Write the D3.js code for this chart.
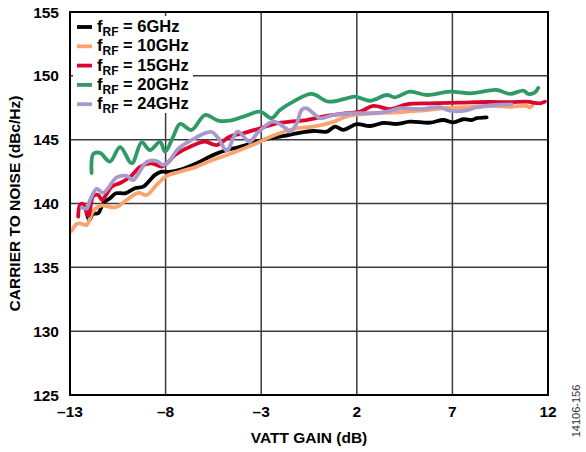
<!DOCTYPE html>
<html lang="en">
<head>
    <meta charset="UTF-8">
    <title></title>
    <style>
        body { margin: 0; background: #fff; }
        text { font-family: "Liberation Sans", Arial, sans-serif; }
        .tick-label { font-size: 15.5px; font-weight: bold; fill: #000; }
        .title { font-size: 15.5px; font-weight: bold; fill: #000; }
        .legend-text { font-size: 16.5px; font-weight: bold; fill: #000; }
        .series { fill: none; stroke-width: 3.8; stroke-linejoin: round; stroke-linecap: round; }
    </style>
</head>
<body>
<svg id="chart"></svg>
<script src="https://cdnjs.cloudflare.com/ajax/libs/d3/7.8.5/d3.min.js"></script>
<script>
    var width = 586;
    var height = 452;
    var margin = {left: 70, right: 38, top: 12, bottom: 57};

    var xTicks = [-13, -8, -3, 2, 7, 12];
    var yTicks = [125, 130, 135, 140, 145, 150, 155];

    var seriesNames = ["6GHz", "10GHz", "15GHz", "20GHz", "24GHz"];
    var seriesColors = ["#000000", "#f9a36e", "#d9072f", "#2f9a66", "#a898cb"];

    // 6GHz
    var gain6 = [-12.13, -11.99, -11.80, -11.52, -11.26, -10.91, -10.59, -10.12, -9.60, -9.17, -8.55, -8.20, -7.77, -7.25, -6.37, -5.51, -4.80, -4.11, -3.24, -2.54, -1.84, -1.14, -0.28, 0.43, 0.86, 1.29, 1.99, 2.69, 3.39, 4.09, 4.78, 5.83, 6.52, 7.05, 7.57, 8.01, 8.27, 8.79];
    var cn6 = [139.26, 138.71, 139.18, 139.24, 140.02, 140.41, 140.80, 140.80, 141.19, 141.32, 142.24, 142.49, 142.47, 142.63, 143.15, 143.80, 144.19, 144.43, 144.84, 145.11, 145.29, 145.50, 145.68, 145.63, 146.02, 145.76, 146.21, 146.07, 146.31, 146.23, 146.41, 146.33, 146.54, 146.36, 146.60, 146.54, 146.68, 146.75];
    // 10GHz
    var gain10 = [-12.91, -12.65, -12.48, -12.13, -11.95, -11.78, -11.34, -10.91, -10.56, -10.03, -9.43, -8.99, -8.47, -7.94, -7.25, -6.37, -5.68, -4.80, -4.11, -3.24, -2.54, -1.84, -1.14, -0.28, 0.77, 1.47, 2.52, 4.09, 5.31, 6.70, 8.27, 9.14, 10.01, 10.89, 11.06, 11.23];
    var cn10 = [137.85, 138.40, 138.45, 138.32, 138.85, 139.42, 139.85, 139.73, 139.73, 140.28, 140.83, 140.67, 141.45, 142.16, 142.49, 142.89, 143.33, 143.80, 144.19, 144.72, 145.21, 145.60, 145.89, 146.02, 146.39, 146.82, 147.05, 147.13, 147.27, 147.48, 147.58, 147.64, 147.58, 147.64, 147.52, 147.77];
    // 15GHz
    var gain15 = [-12.57, -12.48, -12.32, -12.04, -11.78, -11.52, -11.33, -10.82, -10.38, -9.86, -9.34, -8.73, -8.20, -7.86, -7.51, -6.72, -5.94, -5.33, -4.63, -3.94, -3.06, -2.19, -1.49, -0.62, 0.43, 1.47, 2.17, 2.86, 3.74, 4.61, 5.83, 7.40, 8.97, 10.01, 10.89, 11.58, 11.84];
    var cn15 = [138.97, 139.89, 139.97, 139.03, 140.59, 140.67, 140.28, 141.32, 141.61, 142.08, 142.86, 143.15, 142.89, 143.25, 143.80, 144.45, 144.84, 144.58, 145.25, 145.50, 145.89, 146.28, 146.41, 146.54, 146.86, 147.07, 147.19, 147.64, 147.40, 147.77, 147.85, 147.90, 147.95, 147.93, 147.98, 147.85, 147.98];
    // 20GHz
    var gain20 = [-11.87, -11.78, -11.43, -10.91, -10.38, -9.77, -9.25, -8.82, -8.29, -8.03, -7.60, -7.25, -6.64, -5.94, -5.26, -4.63, -3.94, -3.06, -2.45, -2.02, -1.32, -0.36, 0.51, 1.47, 1.91, 2.69, 3.56, 4.00, 4.78, 5.66, 6.87, 7.92, 9.32, 10.01, 10.71, 10.97, 11.32, 11.49];
    var cn20 = [142.39, 143.88, 143.96, 143.28, 144.41, 143.15, 144.78, 144.19, 144.82, 144.06, 145.24, 146.23, 145.76, 146.93, 146.50, 146.49, 146.80, 147.19, 146.68, 147.33, 147.98, 148.58, 147.98, 148.24, 148.37, 148.05, 148.50, 148.32, 148.76, 148.50, 148.76, 148.63, 148.89, 148.58, 148.84, 148.58, 148.70, 149.05];
    // 24GHz
    var gain24 = [-12.39, -12.13, -11.95, -11.60, -11.26, -10.56, -10.03, -9.70, -8.99, -8.47, -8.14, -7.86, -7.34, -6.72, -6.03, -5.59, -5.24, -4.80, -4.24, -3.76, -3.59, -3.17, -2.37, -1.67, -1.49, -1.14, -0.88, -0.62, -0.28, 0.08, 0.77, 1.99, 2.86, 3.56, 4.26, 5.31, 6.35, 6.87, 7.75, 8.27, 9.32, 10.10];
    var cn24 = [139.69, 139.61, 140.28, 141.14, 140.83, 142.04, 142.16, 141.84, 143.25, 143.33, 143.02, 143.25, 144.27, 144.90, 145.45, 145.60, 145.11, 144.15, 145.63, 144.98, 144.84, 145.56, 146.41, 145.84, 145.63, 146.28, 147.33, 147.46, 147.07, 146.68, 146.93, 147.07, 147.07, 147.19, 147.46, 147.40, 147.54, 147.27, 147.29, 147.54, 147.72, 147.77];

    var gains = [gain6, gain10, gain15, gain20, gain24];
    var cns = [cn6, cn10, cn15, cn20, cn24];

    var svg = d3.select("#chart")
        .attr("width", width)
        .attr("height", height);

    var x = d3.scaleLinear()
        .domain([-13, 12])
        .range([margin.left, width - margin.right]);
    var y = d3.scaleLinear()
        .domain([125, 155])
        .range([height - margin.bottom, margin.top]);

    // grid
    var grid = svg.append("g");
    grid.selectAll("line.vx")
        .data(xTicks.slice(1, -1))
        .enter().append("line")
        .attr("x1", function(d) { return x(d); })
        .attr("x2", function(d) { return x(d); })
        .attr("y1", y(125)).attr("y2", y(155))
        .attr("stroke", "#3a3a3a").attr("stroke-width", 1.5);
    grid.selectAll("line.hy")
        .data(yTicks.slice(1, -1))
        .enter().append("line")
        .attr("y1", function(d) { return y(d); })
        .attr("y2", function(d) { return y(d); })
        .attr("x1", x(-13)).attr("x2", x(12))
        .attr("stroke", "#3a3a3a").attr("stroke-width", 1.5);

    // series
    var line = d3.line()
        .x(function(d) { return x(d[0]); })
        .y(function(d) { return y(d[1]); })
        .curve(d3.curveCatmullRom.alpha(0.5));

    svg.append("g").selectAll("path")
        .data(seriesNames)
        .enter().append("path")
        .attr("class", "series")
        .attr("stroke", function(d, i) { return seriesColors[i]; })
        .attr("d", function(d, i) {
            return line(d3.zip(gains[i], cns[i]));
        });

    // legend, white box over the grid
    var legend = svg.append("g");
    legend.append("rect")
        .attr("x", x(-13) + 3).attr("y", y(155) + 4)
        .attr("width", 120).attr("height", 97)
        .attr("fill", "#fff");
    var item = legend.selectAll("g")
        .data(seriesNames)
        .enter().append("g")
        .attr("transform", function(d, i) { return "translate(" + (x(-13) + 7) + "," + (27 + i * 19.3) + ")"; });
    item.append("line")
        .attr("x1", 0).attr("x2", 15)
        .attr("stroke", function(d, i) { return seriesColors[i]; })
        .attr("stroke-width", 3.8);
    var lt = item.append("text")
        .attr("class", "legend-text")
        .attr("x", 20).attr("y", 5);
    lt.append("tspan").text("f");
    lt.append("tspan").attr("dy", 4).style("font-size", "12px").text("RF");
    lt.append("tspan").attr("dy", -4).text(function(d) { return " = " + d; });

    // frame
    svg.append("rect")
        .attr("x", x(-13)).attr("y", y(155))
        .attr("width", x(12) - x(-13)).attr("height", y(125) - y(155))
        .attr("fill", "none").attr("stroke", "#000").attr("stroke-width", 2);

    // tick labels
    svg.append("g").selectAll("text")
        .data(yTicks)
        .enter().append("text")
        .attr("class", "tick-label")
        .attr("x", x(-13) - 11)
        .attr("y", function(d) { return y(d); })
        .attr("dy", "0.36em")
        .attr("text-anchor", "end")
        .text(function(d) { return d; });
    svg.append("g").selectAll("text")
        .data(xTicks)
        .enter().append("text")
        .attr("class", "tick-label")
        .attr("x", function(d) { return x(d); })
        .attr("y", y(125) + 22)
        .attr("text-anchor", "middle")
        .text(function(d) { return d < 0 ? "\u2013" + Math.abs(d) : d; });

    // axis titles
    svg.append("text")
        .attr("class", "title")
        .attr("x", (x(-13) + x(12)) / 2)
        .attr("y", 443)
        .attr("text-anchor", "middle")
        .text("VATT GAIN (dB)");
    svg.append("text")
        .attr("class", "title")
        .attr("transform", "translate(20," + y(140) + ") rotate(-90)")
        .attr("text-anchor", "middle")
        .text("CARRIER TO NOISE (dBc/Hz)");

    svg.append("text")
        .attr("transform", "translate(580,411) rotate(-90)")
        .attr("text-anchor", "middle")
        .style("font-size", "11px")
        .style("fill", "#333")
        .text("14106-156");
</script>
</body>
</html>
